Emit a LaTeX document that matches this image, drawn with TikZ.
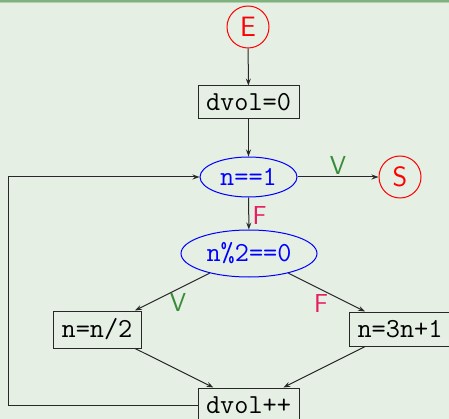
\documentclass[tikz,border=0pt]{standalone}
\usetikzlibrary{shapes.geometric,arrows.meta}
\definecolor{bgc}{RGB}{229,239,228}
\definecolor{topc}{RGB}{128,178,128}
\definecolor{topl}{RGB}{178,208,178}
\definecolor{vgreen}{RGB}{55,140,55}
\definecolor{fpink}{RGB}{232,28,96}
\definecolor{linec}{RGB}{40,40,40}
\begin{document}
\begin{tikzpicture}[x=1pt,y=-1pt,
  every node/.style={font=\fontsize{27}{31}\selectfont},
  procbox/.style={draw=linec,line width=1pt,rectangle,inner sep=0pt,font=\fontsize{27.5}{31}\selectfont\ttfamily},
  testell/.style={draw=blue,line width=1pt,ellipse,inner sep=0pt,text=blue,font=\fontsize{27.5}{31}\selectfont\ttfamily},
  termcirc/.style={draw=red,line width=1pt,circle,inner sep=0pt,minimum size=42pt,text=red,font=\fontsize{28}{32}\selectfont\sffamily},
  flow/.style={draw=linec,line width=1pt,-{Stealth[length=7pt,width=5pt,inset=2.5pt]}},
  vlab/.style={text=vgreen,font=\fontsize{26}{30}\selectfont\sffamily},
  flab/.style={text=fpink,font=\fontsize{26}{30}\selectfont\sffamily}]
\useasboundingbox (0,0) rectangle (449,419);
\clip (0,0) rectangle (449,419);
\fill[bgc] (0,0) rectangle (449,419);
\fill[topc] (0,0) rectangle (449,2);
\fill[topl] (0,2) rectangle (449,3.2);

\node[termcirc] (E) at (248,27) {E};
\node[procbox,minimum width=101pt,minimum height=33pt] (d0) at (248.5,102.5) {dvol=0};
\node[testell,minimum width=97pt,minimum height=40pt] (t1) at (248.5,177) {n==1};
\node[termcirc] (S) at (400,177) {S};
\node[testell,minimum width=136pt,minimum height=47pt] (t2) at (249,253.5) {n\%2==0};
\node[procbox,minimum width=88pt,minimum height=37pt] (a) at (97,329.5) {n=n/2};
\node[procbox,minimum width=102pt,minimum height=34pt] (b) at (400,329) {n=3n+1};
\node[procbox,minimum width=101pt,minimum height=34pt] (dp) at (248.5,405) {dvol++};
\coordinate (c1) at (8,405);
\coordinate (c2) at (8,177);

\draw[flow] (E) -- (d0);
\draw[flow] (d0) -- (t1);
\draw[flow] (t1) -- node[vlab,above=-1pt,pos=0.5] {V} (S);
\draw[flow] (t1) -- node[flab,right=0pt,pos=0.55] {F} (t2);
\draw[flow] (t2) -- (a);
\draw[flow] (t2) -- (b);
\draw[flow] (a) -- (dp);
\draw[flow] (b) -- (dp);
\draw[flow] (dp.west) -- (c1) -- (c2) -- (t1.west);
\node[vlab] (vl) at (178,302) {V};
\node[flab] (fl) at (321,304) {F};
\end{tikzpicture}
\end{document}
